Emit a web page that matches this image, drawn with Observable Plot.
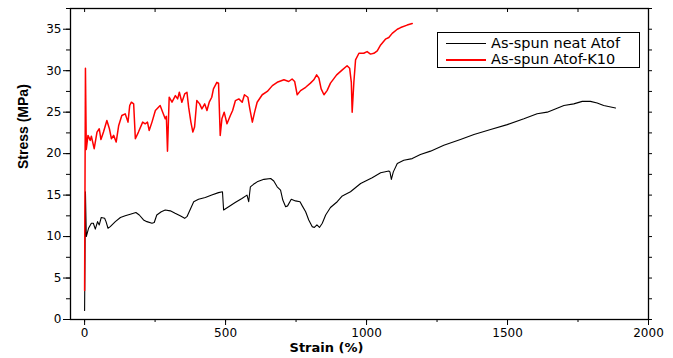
<!DOCTYPE html>
<html>
<head>
<meta charset="utf-8">
<script src="https://cdn.jsdelivr.net/npm/d3@7"></script>
<script src="https://cdn.jsdelivr.net/npm/@observablehq/plot@0.6"></script>
<style>
  body { margin: 0; background: #fff; }
  #chart { position: relative; width: 673px; height: 358px; }
  #chart svg { display: block; }
  .legend {
    position: absolute; left: 437px; top: 32px; width: 201px; height: 34px;
    border: 1px solid #000; background: #fff;
    font-family: "DejaVu Sans", sans-serif; font-size: 14.5px; line-height: 16px; color: #000;
  }
  .legend .row { position: absolute; left: 0; height: 16px; line-height: 16px; white-space: nowrap; }
  .legend .swatch { position: absolute; left: 8px; top: 8px; width: 40px; }
  .legend .name { position: absolute; left: 53px; top: 0; }
</style>
</head>
<body>
<div id="chart"></div>
<script>
// Tensile curves: strain (%) vs stress (MPa)
const neatStrain = [0, 3, 6, 14, 24, 31, 38, 46, 52, 59, 71, 76, 83, 91, 109, 127, 144, 162, 182, 194, 209, 221, 239, 247, 256, 272, 286, 304, 321, 339, 355, 363, 375, 387, 404, 428, 451, 475, 489, 493, 511, 534, 558, 576, 582, 588, 599, 612, 636, 660, 671, 683, 695, 703, 713, 720, 733, 748, 764, 772, 784, 795, 807, 815, 824, 833, 843, 855, 872, 896, 914, 943, 979, 1020, 1050, 1079, 1083, 1088, 1095, 1109, 1132, 1162, 1191, 1227, 1274, 1333, 1381, 1440, 1499, 1558, 1605, 1641, 1700, 1735, 1765, 1794, 1818, 1841, 1883];
const neatStress = [1.1, 15.4, 10.0, 11.0, 11.6, 11.6, 10.9, 11.8, 11.4, 12.3, 12.2, 11.8, 11.0, 11.2, 11.8, 12.3, 12.5, 12.7, 12.9, 12.6, 12.0, 11.8, 11.6, 11.7, 12.6, 13.0, 13.2, 13.1, 12.8, 12.5, 12.2, 12.4, 13.3, 14.2, 14.5, 14.7, 15.0, 15.3, 15.4, 13.2, 13.6, 14.1, 14.6, 15.0, 14.2, 16.0, 16.3, 16.6, 16.9, 17.0, 16.7, 16.0, 15.6, 14.4, 13.6, 13.7, 14.5, 14.3, 14.2, 13.7, 13.0, 12.0, 11.2, 11.1, 11.4, 11.1, 11.6, 12.6, 13.5, 14.2, 14.9, 15.4, 16.4, 17.1, 17.7, 17.9, 17.8, 16.9, 17.8, 18.8, 19.2, 19.4, 19.9, 20.3, 21.0, 21.7, 22.3, 22.9, 23.5, 24.2, 24.8, 25.0, 25.8, 26.0, 26.3, 26.3, 26.1, 25.8, 25.5];

const k10Strain = [0, 3, 6, 12, 20, 24, 34, 44, 52, 58, 67, 79, 88, 95, 103, 112, 121, 132, 144, 154, 160, 166, 174, 180, 191, 206, 215, 223, 229, 239, 251, 268, 277, 286, 290, 294, 300, 310, 322, 330, 336, 345, 355, 363, 369, 377, 384, 390, 398, 408, 416, 426, 434, 442, 451, 457, 469, 475, 481, 487, 495, 505, 517, 525, 535, 547, 559, 567, 579, 586, 595, 603, 612, 630, 648, 666, 683, 707, 724, 736, 745, 754, 766, 784, 801, 813, 823, 831, 839, 849, 860, 872, 894, 914, 931, 940, 946, 949, 955, 961, 973, 990, 1002, 1014, 1026, 1038, 1050, 1067, 1079, 1091, 1109, 1121, 1144, 1162];
const k10Stress = [3.5, 30.3, 20.5, 22.2, 21.6, 22.1, 20.6, 22.6, 23.0, 21.7, 22.6, 24.0, 23.0, 21.8, 22.2, 21.4, 23.4, 24.6, 24.8, 23.8, 25.8, 26.2, 26.0, 21.8, 22.6, 23.8, 23.6, 23.8, 22.8, 23.8, 25.2, 25.8, 25.0, 24.2, 24.5, 20.3, 26.8, 26.2, 27.0, 26.6, 27.4, 26.2, 27.2, 27.4, 25.6, 23.8, 22.6, 23.2, 26.4, 26.0, 25.4, 26.0, 25.2, 26.2, 26.8, 27.8, 28.6, 28.5, 22.2, 24.2, 25.0, 23.6, 24.6, 25.2, 26.4, 26.6, 26.2, 27.1, 26.8, 25.4, 23.8, 25.0, 26.2, 27.1, 27.5, 28.2, 28.6, 28.9, 28.7, 29.0, 28.7, 27.1, 27.6, 28.0, 28.5, 28.9, 29.5, 29.1, 27.8, 27.1, 27.6, 28.5, 29.5, 30.1, 30.6, 30.3, 28.6, 25.0, 28.6, 31.3, 32.1, 32.1, 32.3, 32.0, 32.1, 32.4, 33.1, 33.8, 34.0, 34.5, 35.0, 35.2, 35.5, 35.7];

const seriesNames = ["As-spun neat Atof", "As-spun Atof-K10"];
const seriesColors = ["#000000", "#ff0000"];

const xMajor = [0, 500, 1000, 1500, 2000];
const xMinor = [0, 250, 500, 750, 1000, 1250, 1500, 1750, 2000];
const yMajor = [0, 5, 10, 15, 20, 25, 30, 35];
const yMinor = [0, 2.5, 5, 7.5, 10, 12.5, 15, 17.5, 20, 22.5, 25, 27.5, 30, 32.5, 35, 37.5];

const neatRows = neatStrain.map((s, i) => ({strain: s, stress: neatStress[i]}));
const k10Rows = k10Strain.map((s, i) => ({strain: s, stress: k10Stress[i]}));
const blank = () => "";

const chart = Plot.plot({
  width: 673,
  height: 358,
  marginLeft: 70,
  marginRight: 25,
  marginTop: 8,
  marginBottom: 39,
  style: {fontFamily: "DejaVu Sans, sans-serif", fontSize: "12px", color: "#000", background: "#fff", overflow: "visible"},
  x: {domain: [-50, 2000]},
  y: {domain: [0, 37.5]},
  marks: [
    // bottom and left axes, outward ticks
    Plot.axisX(xMinor, {anchor: "bottom", tickSize: 3, tickFormat: blank, label: null}),
    Plot.axisX(xMajor, {anchor: "bottom", tickSize: 6, tickPadding: 3, tickFormat: d3.format("d"), label: null}),
    Plot.axisY(yMinor, {anchor: "left", tickSize: 4, tickFormat: blank, label: null}),
    Plot.axisY(yMajor, {anchor: "left", tickSize: 7, tickPadding: 2, tickFormat: d3.format("d"), label: null}),
    // top and right axes, ticks only
    Plot.axisX(xMinor, {anchor: "top", tickSize: -3, tickFormat: blank, label: null}),
    Plot.axisY(yMinor, {anchor: "right", tickSize: 3, tickFormat: blank, label: null}),
    Plot.frame({stroke: "#000", strokeWidth: 1.3}),
    Plot.line(neatRows, {x: "strain", y: "stress", stroke: seriesColors[0], strokeWidth: 1.1}),
    Plot.line(k10Rows, {x: "strain", y: "stress", stroke: seriesColors[1], strokeWidth: 1.5}),
    Plot.text(["Strain (%)"], {frameAnchor: "bottom", dx: -33, dy: 28, lineAnchor: "middle", fontWeight: "bold", fontSize: 13, fill: "#000"}),
    Plot.text(["Stress (MPa)"], {frameAnchor: "left", dx: -47, dy: 5, rotate: -90, lineAnchor: "middle", fontWeight: "bold", fontSize: 14, fontFamily: "Liberation Sans, Arial, sans-serif", fill: "#000"})
  ]
});

const host = document.getElementById("chart");
host.appendChild(chart);

// legend box: one sample line and name per series
const legend = document.createElement("div");
legend.className = "legend";
seriesNames.forEach((name, i) => {
  const row = document.createElement("div");
  row.className = "row";
  row.style.top = (2 + i * 16) + "px";
  const sw = document.createElement("div");
  sw.className = "swatch";
  sw.style.background = seriesColors[i];
  sw.style.height = i === 1 ? "2px" : "1px";
  const label = document.createElement("div");
  label.className = "name";
  label.textContent = name;
  row.appendChild(sw);
  row.appendChild(label);
  legend.appendChild(row);
});
host.appendChild(legend);
</script>
</body>
</html>
